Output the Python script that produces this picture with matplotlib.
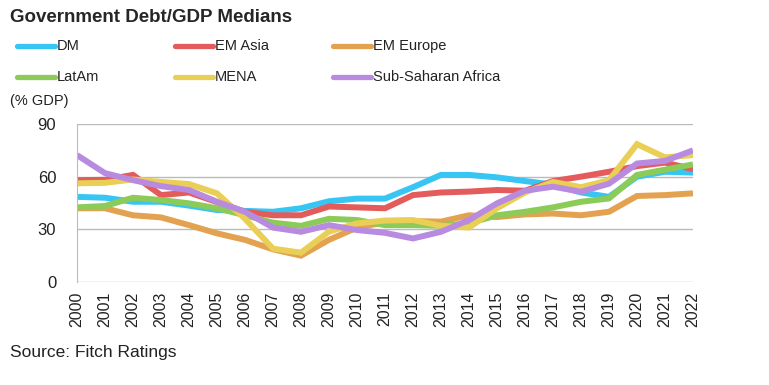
import numpy as np
import matplotlib.pyplot as plt
from matplotlib.lines import Line2D

plt.rcParams['font.family'] = ['Liberation Sans', 'DejaVu Sans']

years = list(range(2000, 2023))
dm = [48.5, 48, 45.7, 45.7, 43.5, 41, 40.5, 40, 42, 46, 47.5, 47.5, 54, 61, 61, 59.6, 57.5, 55.5, 51, 48.5, 60, 62.8, 62.3]
em_asia = [58, 58.2, 61, 49.5, 51, 45.5, 40, 38, 38, 43, 42.5, 42, 49.5, 51, 51.5, 52.4, 52, 57.5, 60, 62.8, 66, 68, 64.3]
em_europe = [42, 42, 38, 36.8, 32.4, 27.7, 24, 18.6, 15, 24, 31, 34, 34.7, 34.4, 38, 37, 38.5, 39, 38, 40, 49, 49.5, 50.5]
latam = [42.5, 43.3, 48, 46.7, 44.8, 42, 38, 33.8, 32, 36, 35.3, 32.4, 32.4, 32, 33.4, 38, 40, 42.5, 45.7, 47.6, 61, 64, 67]
mena = [56.2, 56.5, 58.4, 57, 55.8, 50.5, 36, 19, 16.7, 28.7, 33.4, 35, 35.3, 32, 31, 42, 51, 57, 54, 58, 78.5, 71, 72.3]
ssa = [72.3, 62, 58, 54.6, 52.4, 45.7, 40, 31, 28.6, 32.4, 29.6, 28, 24.8, 28.6, 35.3, 44.8, 52, 54.3, 51.4, 56, 67.5, 69, 75]

series = [
    ("DM", dm, "#37C5F3"),
    ("EM Asia", em_asia, "#E35B5B"),
    ("EM Europe", em_europe, "#E3A24F"),
    ("LatAm", latam, "#8CCB58"),
    ("MENA", mena, "#E9CF55"),
    ("Sub-Saharan Africa", ssa, "#B98BE0"),
]

fig = plt.figure(figsize=(7.69, 3.85), dpi=100)
ax = fig.add_axes([77/769, 1-282/385, (693-77)/769, (282-124)/385])

for name, vals, col in series:
    ax.plot(years, vals, color=col, lw=4.3, solid_joinstyle='miter', solid_capstyle='butt')

ax.set_xlim(2000, 2022)
ax.set_ylim(0, 90)
ax.set_yticks([0, 30, 60, 90])
ax.set_xticks(years)
ax.set_xticklabels([str(y) for y in years], rotation=90, fontsize=11.5, color='#222222')
ax.tick_params(axis='y', labelsize=12, colors='#222222', length=0, pad=15)
ax.tick_params(axis='x', length=0, pad=7)
ax.grid(axis='y', color='#BBBBBB', lw=1)
ax.set_axisbelow(True)
for s in ['top', 'right', 'bottom']:
    ax.spines[s].set_visible(False)
ax.spines['left'].set_color('#BBBBBB')

# title and notes
fig.text(10/769, 1-18/385, "Government Debt/GDP Medians", fontsize=13.5, fontweight='bold',
         color='#262626', va='center', ha='left')
fig.text(10/769, 1-101/385, "(% GDP)", fontsize=10.5, color='#222222', va='center')
fig.text(10/769, 1-352/385, "Source: Fitch Ratings", fontsize=12.5, color='#222222', va='center')

# legend
col_x = [17, 175, 333]
row_y = [46, 77]
for i, (name, vals, col) in enumerate(series):
    r, c = divmod(i, 3)
    x0 = col_x[c] / 769
    y0 = 1 - row_y[r] / 385
    fig.add_artist(Line2D([x0, x0 + 38/769], [y0, y0], color=col, lw=3.8,
                          solid_capstyle='round', transform=fig.transFigure))
    fig.text(x0 + 40/769, y0, name, fontsize=10.5, color='#222222', va='center', ha='left')

fig.savefig("out.png", dpi=100)
